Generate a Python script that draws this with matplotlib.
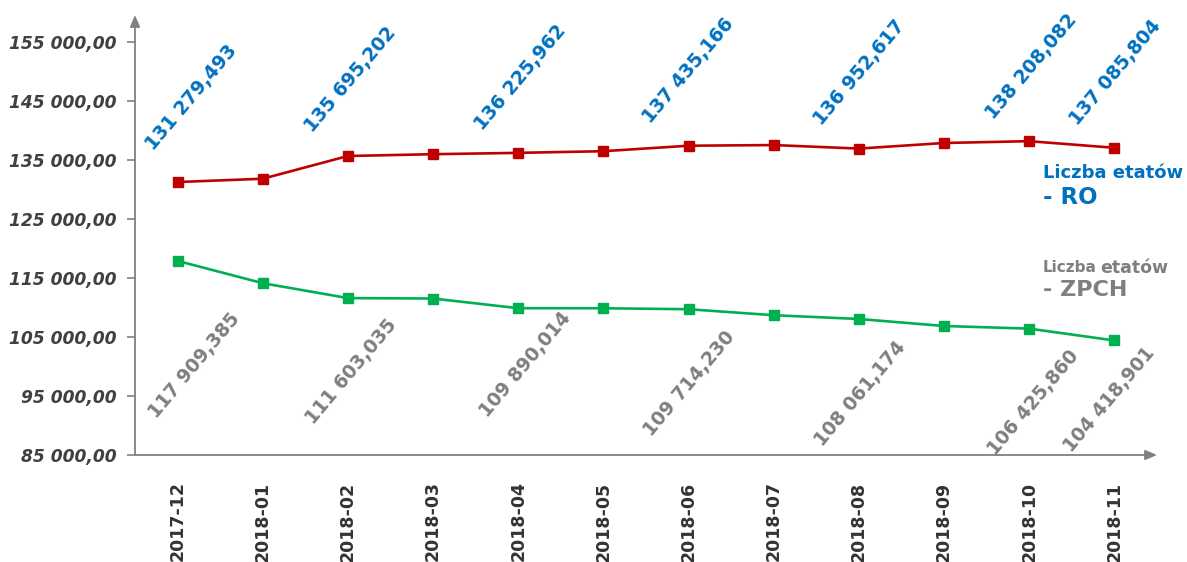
import matplotlib
matplotlib.use("Agg")
import matplotlib.pyplot as plt
from matplotlib.ticker import FuncFormatter

months = ["2017-12", "2018-01", "2018-02", "2018-03", "2018-04", "2018-05",
          "2018-06", "2018-07", "2018-08", "2018-09", "2018-10", "2018-11"]
ro = [131279.493, 131840, 135695.202, 136000, 136225.962, 136510,
      137435.166, 137550, 136952.617, 137900, 138208.082, 137085.804]
zpch = [117909.385, 114130, 111603.035, 111530, 109890.014, 109880,
        109714.230, 108700, 108061.174, 106870, 106425.860, 104418.901]
labelled = [0, 2, 4, 6, 8, 10, 11]

# label centre offsets in pixels (dx right, dy up)
ro_offsets = [(14, 85), (3, 76), (2, 75), (0, 75), (1, 76), (2, 75), (1, 75)]
zpch_offsets = [(17, -105), (3, -74), (7, -56), (1, -74), (1, -75), (4, -74), (-5, -59)]

RED = "#C00000"
GREEN = "#00B050"
BLUE = "#0070C0"
GREY = "#7F7F7F"
AXIS = "#808080"


def pl_fmt(v, dec):
    return f"{v:,.{dec}f}".replace(",", " ").replace(".", ",")


fig = plt.figure(figsize=(11.87, 5.62), dpi=100)
ax = fig.add_axes([135 / 1187, 1 - 455 / 562, (1157 - 135) / 1187, (455 - 15) / 562])

x = list(range(len(months)))
ax.plot(x, ro, color=RED, lw=1.9, marker="s", ms=6.5, zorder=3)
ax.plot(x, zpch, color=GREEN, lw=1.9, marker="s", ms=6.5, zorder=3)

ax.set_xlim(-0.5, 11.5)
ax.set_ylim(85000, 159600)
ax.set_yticks(range(85000, 155001, 10000))
ax.yaxis.set_major_formatter(FuncFormatter(lambda v, p: pl_fmt(v, 2)))
ax.set_xticks(x)
ax.set_xticklabels(months, rotation=90)

for s in ax.spines.values():
    s.set_visible(False)

arrow = dict(arrowstyle="-|>,head_length=0.7,head_width=0.3", color=AXIS, lw=1.3,
             shrinkA=0, shrinkB=0)
ax.annotate("", xy=(0, 1), xytext=(0, 0), xycoords="axes fraction",
            arrowprops=arrow, annotation_clip=False)
ax.annotate("", xy=(1, 0), xytext=(0, 0), xycoords="axes fraction",
            arrowprops=arrow, annotation_clip=False)

ax.tick_params(axis="y", length=6, width=1.2, color=AXIS, pad=7,
               labelsize=12.3, labelcolor="#404040")
ax.tick_params(axis="x", length=0, pad=19, labelsize=12.5, labelcolor="#333333")
for t in ax.get_yticklabels():
    t.set_fontweight("bold")
    t.set_fontstyle("italic")
for t in ax.get_xticklabels():
    t.set_fontweight("bold")

px = 0.72
for i, (dx, dy) in zip(labelled, ro_offsets):
    ax.annotate(pl_fmt(ro[i], 3), xy=(i, ro[i]), xytext=(dx * px, dy * px),
                textcoords="offset points", ha="center", va="center",
                rotation=50, color=BLUE, fontsize=13.5, fontweight="bold")
for i, (dx, dy) in zip(labelled, zpch_offsets):
    ax.annotate(pl_fmt(zpch[i], 3), xy=(i, zpch[i]), xytext=(dx * px, dy * px),
                textcoords="offset points", ha="center", va="center",
                rotation=50, color=GREY, fontsize=13.5, fontweight="bold")

# series names
fig.text(1043 / 1187, 1 - 173 / 562, "Liczba etatów", color=BLUE, fontsize=13,
         fontweight="bold", va="center")
fig.text(1043 / 1187, 1 - 197 / 562, "- RO", color=BLUE, fontsize=16.5,
         fontweight="bold", va="center")
fig.text(1043 / 1187, 1 - 268 / 562, "Liczba", color=GREY, fontsize=11,
         fontweight="bold", va="center")
fig.text(1100 / 1187, 1 - 268 / 562, "etatów", color=GREY, fontsize=12.5,
         fontweight="bold", va="center")
fig.text(1043 / 1187, 1 - 290 / 562, "- ZPCH", color=GREY, fontsize=16,
         fontweight="bold", va="center")

fig.savefig("out.png", dpi=100)
